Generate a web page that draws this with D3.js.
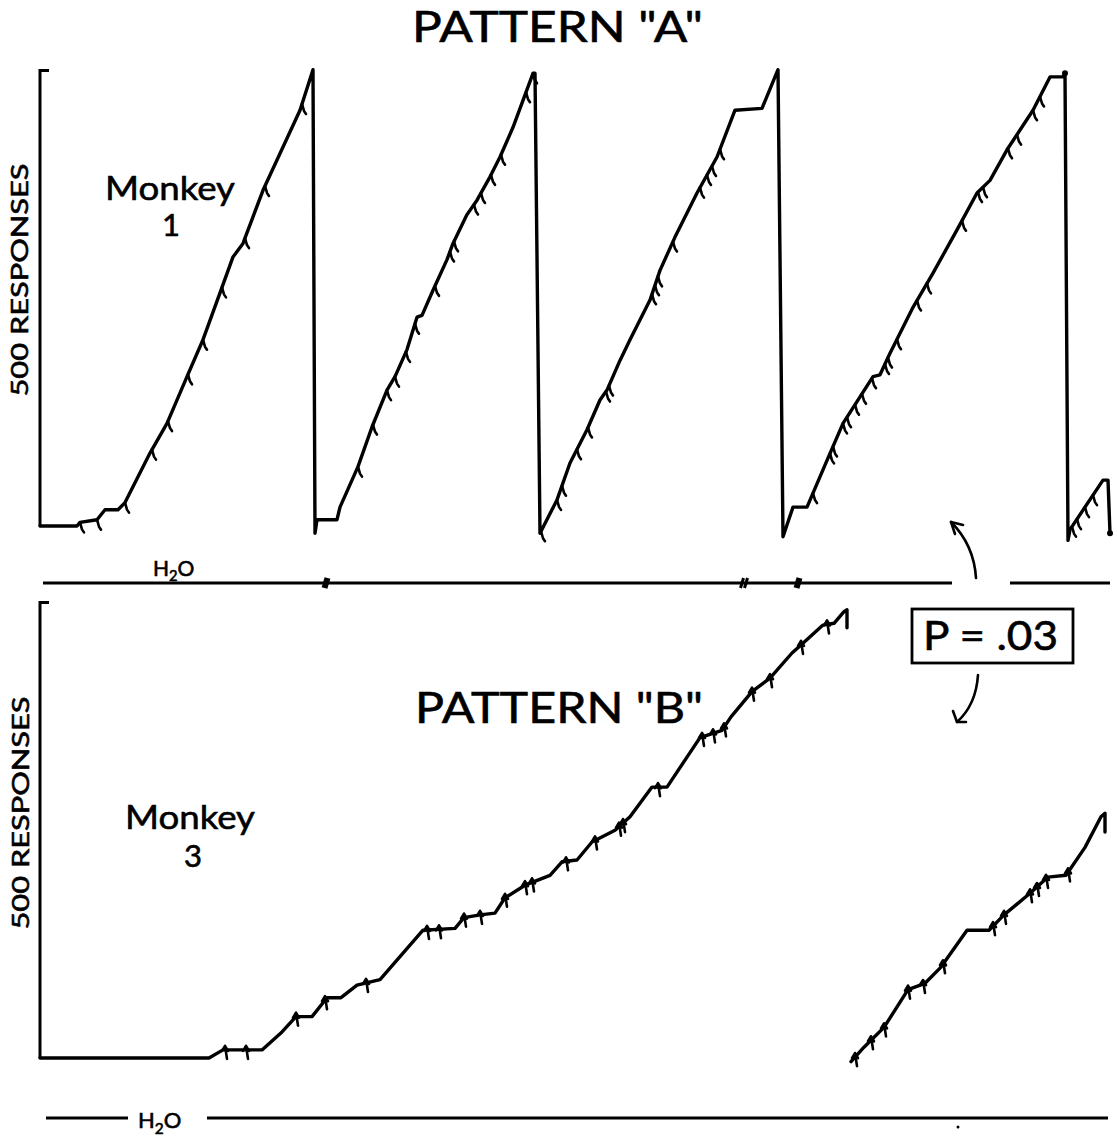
<html>
  <head>
    <style>
      body {
        margin: 0;
        background: #fff;
      }
      svg {
        display: block;
        font-family: Lato, "Noto Sans", sans-serif;
      }
      .rec {
        fill: none;
        stroke: #000;
        stroke-width: 3.4;
        stroke-linejoin: round;
        stroke-linecap: round;
      }
      .pip {
        fill: none;
        stroke: #000;
        stroke-width: 2.6;
        stroke-linecap: round;
        stroke-linejoin: round;
      }
      .axis {
        stroke: #000;
        stroke-width: 3;
        fill: none;
      }
      .lbl {
        fill: #000;
        stroke: #000;
        stroke-width: 0.6;
      }
    </style>
  </head>
  <body>
    <script src="https://d3js.org/d3.v7.min.js"></script>
    <script>
      // cumulative records: [minutes, responses]
      const recordA = [
        [0, 0], [3.7, 0], [4.0, 4], [5.7, 7], [6.5, 18], [7.8, 18], [8.5, 26],
        [11.0, 81], [12.7, 114], [14.7, 166], [16.3, 207], [18.0, 259], [19.3, 299],
        [20.3, 314], [22.3, 373], [26.0, 462], [27.3, 507],
        [27.5, -8], [27.7, 7], [29.7, 7], [30.0, 21], [31.8, 66], [33.2, 110],
        [34.7, 151], [35.5, 166], [36.7, 196], [37.7, 232], [38.2, 234], [39.3, 262],
        [40.7, 296], [41.3, 314], [42.7, 346], [43.7, 362], [45.0, 388], [46.0, 410],
        [47.3, 443], [49.3, 503], [49.5, 503],
        [50.0, -8], [51.7, 29], [53.0, 70], [54.7, 107], [56.0, 140], [56.7, 151],
        [58.0, 184], [59.0, 207], [61.0, 251], [62.0, 284], [63.5, 321], [65.7, 370],
        [67.7, 410], [69.5, 462], [72.2, 464], [73.8, 507],
        [74.3, -12], [75.3, 21], [76.7, 21], [78.7, 73], [80.3, 114], [83.3, 166],
        [84.0, 168], [85.0, 192], [87.3, 243], [89.3, 281], [91.7, 329], [93.7, 370],
        [95.0, 384], [96.7, 418], [99.3, 462], [101.0, 499], [102.3, 499], [102.5, 503],
        [102.8, -16], [103.0, -4], [106.3, 51], [106.8, 51], [107.0, -8],
      ];
      const pipsA = [
        4.0, 5.7, 8.5, 11.2, 12.8, 14.8, 16.3, 18.2, 20.5, 22.5, 26.2,
        31.8, 33.3, 34.7, 35.5, 36.6, 37.5, 39.5, 41.0, 41.4, 43.4, 44.1, 45.1, 46.1, 48.6, 49.3,
        50.1, 51.7, 52.2, 53.7, 54.8, 56.6, 56.9, 61.2, 61.5, 61.8, 63.3, 66.0, 66.7, 67.2, 68.0,
        77.3, 79.0, 79.3, 80.3, 80.7, 81.5, 82.2, 83.2, 84.5, 84.8, 85.7, 87.7, 88.7, 92.2,
        93.8, 94.3, 96.8, 97.7, 99.3, 100.0,
        103.2, 103.7, 104.5, 105.3,
      ];
      const recordB1 = [
        [0, 0], [16.9, 0], [18.3, 9], [22.2, 9], [24.2, 29], [25.6, 46], [27.2, 46],
        [28.7, 67], [30.1, 67], [31.7, 81], [34.0, 87], [38.3, 142], [41.5, 144],
        [42.4, 156], [44.0, 159], [45.5, 161], [46.5, 178], [48.5, 192], [51.0, 203],
        [52.2, 218], [53.7, 220], [55.2, 240], [57.5, 253], [59.0, 268], [61.2, 301],
        [62.7, 301], [66.0, 356], [68.2, 364], [69.1, 379], [71.2, 407], [73.0, 422],
        [75.2, 450], [76.1, 459], [78.3, 481], [79.4, 483], [80.4, 496], [80.7, 498],
        [80.7, 478],
      ];
      const recordB2 = [
        [81.1, -4], [82.4, 12], [84.4, 34], [86.8, 76], [88.5, 83], [90.1, 101],
        [92.7, 142], [94.9, 142], [96.4, 159], [99.0, 183], [100.8, 201], [102.6, 203],
        [104.5, 234], [106.1, 268], [106.5, 272], [106.5, 251],
      ];
      const pipsB1 = [
        18.5, 20.6, 25.6, 28.5, 32.6, 38.7, 39.9, 42.4, 44.0, 46.5, 48.5, 49.2,
        52.6, 55.5, 57.9, 58.3, 61.8, 66.2, 67.3, 68.4, 71.2, 73.0, 76.1, 78.7,
      ];
      const pipsB2 = [81.5, 83.1, 84.4, 86.8, 88.3, 90.3, 95.3, 96.4, 99.0, 99.7, 100.6, 102.8];

      // water line spans [from, to] and event marks (minutes)
      const waterA = [[0.3, 91.2], [97.0, 107.0]];
      const waterMarksA = [28.6, 70.2, 70.6, 75.8];
      const waterB = [[0.6, 8.8], [16.7, 106.8]];

      const titles = ['PATTERN "A"', 'PATTERN "B"'];
      const subjects = [["Monkey", "1"], ["Monkey", "3"]];
      const yLabel = "500  RESPONSES";
      const pLabel = "P = .03";

      const W = 1117, H = 1138;
      const svg = d3.select("body").append("svg").attr("width", W).attr("height", H);
      svg.append("rect").attr("width", W).attr("height", H).attr("fill", "#fff");

      const x = d3.scaleLinear().domain([0, 107]).range([40, 1110]);
      const yTop = d3.scaleLinear().domain([0, 500]).range([526, 76]);
      const yBot = d3.scaleLinear().domain([0, 500]).range([1058, 608]);

      function valueAt(series, t) {
        for (let i = 0; i < series.length - 1; i++) {
          const a = series[i], b = series[i + 1];
          if (t >= a[0] && t <= b[0]) {
            if (b[0] === a[0]) return a[1];
            return a[1] + ((b[1] - a[1]) * (t - a[0])) / (b[0] - a[0]);
          }
        }
        return series[series.length - 1][1];
      }

      function drawPanel(y, records, pips, topStyle) {
        // axis bracket
        svg.append("path").attr("class", "axis")
          .attr("d", `M${x(0) + 9},${y(506)} L${x(0)},${y(506)} L${x(0)},${y(0)}`);
        const line = d3.line().x((d) => x(d[0])).y((d) => y(d[1]));
        records.forEach((rec) => {
          svg.append("path").attr("class", "rec").attr("d", line(rec));
        });
        pips.forEach(([rec, list]) => {
          list.forEach((t) => {
            const px = x(t), py = y(valueAt(rec, t));
            const d = topStyle
              ? `M${px},${py} L${px + 2},${py + 7} L${px + 4},${py + 10}`
              : `M${px - 3},${py + 1} L${px},${py - 4} L${px + 3},${py + 1} M${px},${py - 4} L${px + 2},${py + 9}`;
            svg.append("path").attr("class", "pip").attr("d", d);
          });
        });
      }

      drawPanel(yTop, [recordA], [[recordA, pipsA]], true);
      drawPanel(yBot, [recordB1, recordB2], [[recordB1, pipsB1], [recordB2, pipsB2]], false);

      // reset dots
      svg.append("circle").attr("cx", x(102.5)).attr("cy", yTop(503)).attr("r", 3);
      svg.append("circle").attr("cx", x(107.0)).attr("cy", yTop(-8)).attr("r", 3);

      // water lines
      const waterY1 = 583, waterY2 = 1118;
      waterA.forEach(([a, b]) => {
        svg.append("line").attr("class", "axis").attr("x1", x(a)).attr("x2", x(b))
          .attr("y1", waterY1).attr("y2", waterY1);
      });
      waterMarksA.forEach((t, i) => {
        svg.append("line").attr("stroke", "#000").attr("stroke-width", i === 1 || i === 2 ? 3 : 6)
          .attr("x1", x(t) - 1.5).attr("x2", x(t) + 1.5)
          .attr("y1", waterY1 + 5).attr("y2", waterY1 - 5);
      });
      waterB.forEach(([a, b]) => {
        svg.append("line").attr("class", "axis").attr("x1", x(a)).attr("x2", x(b))
          .attr("y1", waterY2).attr("y2", waterY2);
      });
      svg.append("circle").attr("cx", 958).attr("cy", 1127).attr("r", 1.5);

      function h2o(px, py, size) {
        const t = svg.append("text").attr("class", "lbl").attr("x", px).attr("y", py)
          .attr("font-size", size).attr("stroke-width", 0.3);
        t.append("tspan").text("H");
        t.append("tspan").attr("font-size", size * 0.7).attr("dy", size * 0.25).text("2");
        t.append("tspan").attr("dy", -size * 0.25).text("O");
      }
      h2o(153, 576, 21);
      h2o(138, 1128, 22);

      // titles
      svg.append("text").attr("class", "lbl").attr("x", 412).attr("y", 42)
        .attr("font-size", 42).attr("textLength", 291).attr("lengthAdjust", "spacingAndGlyphs")
        .text(titles[0]);
      svg.append("text").attr("class", "lbl").attr("x", 415).attr("y", 723)
        .attr("font-size", 42).attr("textLength", 288).attr("lengthAdjust", "spacingAndGlyphs")
        .text(titles[1]);

      // subject labels
      const subjPos = [
        { x0: 105, w: 130, y0: 200, nx: 171, ny: 236 },
        { x0: 125, w: 130, y0: 829, nx: 193, ny: 867 },
      ];
      subjects.forEach(([name, num], i) => {
        const p = subjPos[i];
        svg.append("text").attr("class", "lbl").attr("x", p.x0).attr("y", p.y0)
          .attr("font-size", 33).attr("textLength", p.w).attr("lengthAdjust", "spacingAndGlyphs")
          .text(name);
        svg.append("text").attr("class", "lbl").attr("x", p.nx).attr("y", p.ny)
          .attr("font-size", 31).attr("text-anchor", "middle").text(num);
      });

      // y labels
      [[28, 280], [29, 813]].forEach(([lx, ly]) => {
        svg.append("text").attr("class", "lbl")
          .attr("transform", `translate(${lx},${ly}) rotate(-90)`)
          .attr("text-anchor", "middle").attr("font-size", 24)
          .attr("textLength", 233).attr("lengthAdjust", "spacingAndGlyphs")
          .text(yLabel);
      });

      // P box and arrows
      svg.append("rect").attr("x", 912).attr("y", 609).attr("width", 161).attr("height", 54)
        .attr("fill", "none").attr("stroke", "#000").attr("stroke-width", 2.8);
      svg.append("text").attr("class", "lbl").attr("x", 923).attr("y", 650)
        .attr("font-size", 40).attr("textLength", 135).attr("lengthAdjust", "spacingAndGlyphs")
        .text(pLabel);

      const arrow = (d) => svg.append("path").attr("class", "pip").attr("stroke-width", 3.2).attr("d", d);
      arrow("M976,578 Q974,545 951,522");
      arrow("M951,522 L963,525 M951,522 L955,534");
      arrow("M978,675 Q976,705 957,722");
      arrow("M957,722 L953,711 M957,722 L966,722");
    </script>
  </body>
</html>
